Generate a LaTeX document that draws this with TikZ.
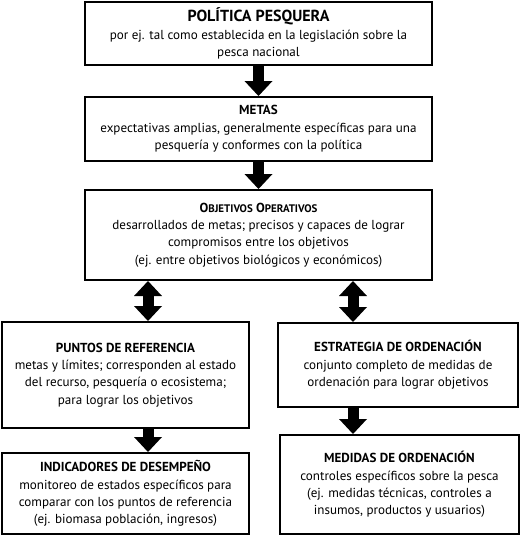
\documentclass[tikz,border=0pt]{standalone}
\usepackage{fontspec}
\setmainfont{PT Sans}
\usetikzlibrary{arrows.meta}
\newdimen\pxu \pxu=0.75pt
\newcommand{\smcap}[1]{{\fontsize{8.2}{9}\selectfont #1}}
\begin{document}
\begin{tikzpicture}[x=0.75pt, y=-0.75pt,
    box/.style={draw, line width=1.5pt, align=center, inner sep=0pt,
        font=\fontsize{9.8}{13}\selectfont},
    fat/.style={line width=8.25pt,
        -{Triangle[width=21pt,length=11.25pt,line width=0pt]}},
    fatboth/.style={line width=8.25pt,
        {Triangle[width=21pt,length=11.25pt,line width=0pt]}-{Triangle[width=21pt,length=11.25pt,line width=0pt]}}]
    \useasboundingbox (0,0) rectangle (523,537);
    \coordinate (lx) at (148,0);
    \coordinate (rx) at (353,0);
    % main column
    \node[box, minimum width=347\pxu, minimum height=63\pxu] (pol) at (258.5,33.5)
        {{\bfseries\fontsize{12}{14}\selectfont POLÍTICA PESQUERA}\\
         por ej. tal como establecida en la legislación sobre la\\
         pesca nacional};
    \node[box, minimum width=347\pxu, minimum height=64\pxu] (metas) at (258.5,129)
        {\textbf{METAS}\\
         expectativas amplias, generalmente específicas para una\\
         pesquería y conformes con la política};
    \node[box, minimum width=347\pxu, minimum height=90\pxu] (obj) at (258.5,235)
        {\textbf{O\smcap{BJETIVOS} O\smcap{PERATIVOS}}\\
         desarrollados de metas; precisos y capaces de lograr\\
         compromisos entre los objetivos\\
         (ej. entre objetivos biológicos y económicos)};
    % left column
    \node[box, minimum width=247\pxu, minimum height=106\pxu] (pun) at (125.5,375)
        {\textbf{PUNTOS DE REFERENCIA}\\
         metas y límites; corresponden al estado\\
         del recurso, pesquería o ecosistema;\\
         para lograr los objetivos};
    \node[box, minimum width=247\pxu, minimum height=81\pxu] (ind) at (125.5,493.5)
        {\textbf{INDICADORES DE DESEMPEÑO}\\
         monitoreo de estados específicos para\\
         comparar con los puntos de referencia\\
         (ej. biomasa población, ingresos)};
    % right column
    \node[box, minimum width=240\pxu, minimum height=84\pxu] (est) at (398,365)
        {\textbf{ESTRATEGIA DE ORDENACIÓN}\\
         conjunto completo de medidas de\\
         ordenación para lograr objetivos};
    \node[box, minimum width=239\pxu, minimum height=99\pxu] (med) at (399.5,484.5)
        {\textbf{MEDIDAS DE ORDENACIÓN}\\
         controles específicos sobre la pesca\\
         (ej. medidas técnicas, controles a\\
         insumos, productos y usuarios)};
    % arrows
    \draw[fat] (pol.south) -- (metas.north);
    \draw[fat] (metas.south) -- (obj.north);
    \draw[fatboth] (lx |- obj.south) -- (lx |- pun.north);
    \draw[fatboth] (rx |- obj.south) -- (rx |- est.north);
    \draw[fat] (pun.south -| lx) -- (ind.north -| lx);
    \draw[fat] (est.south -| rx) -- (med.north -| rx);
\end{tikzpicture}
\end{document}
